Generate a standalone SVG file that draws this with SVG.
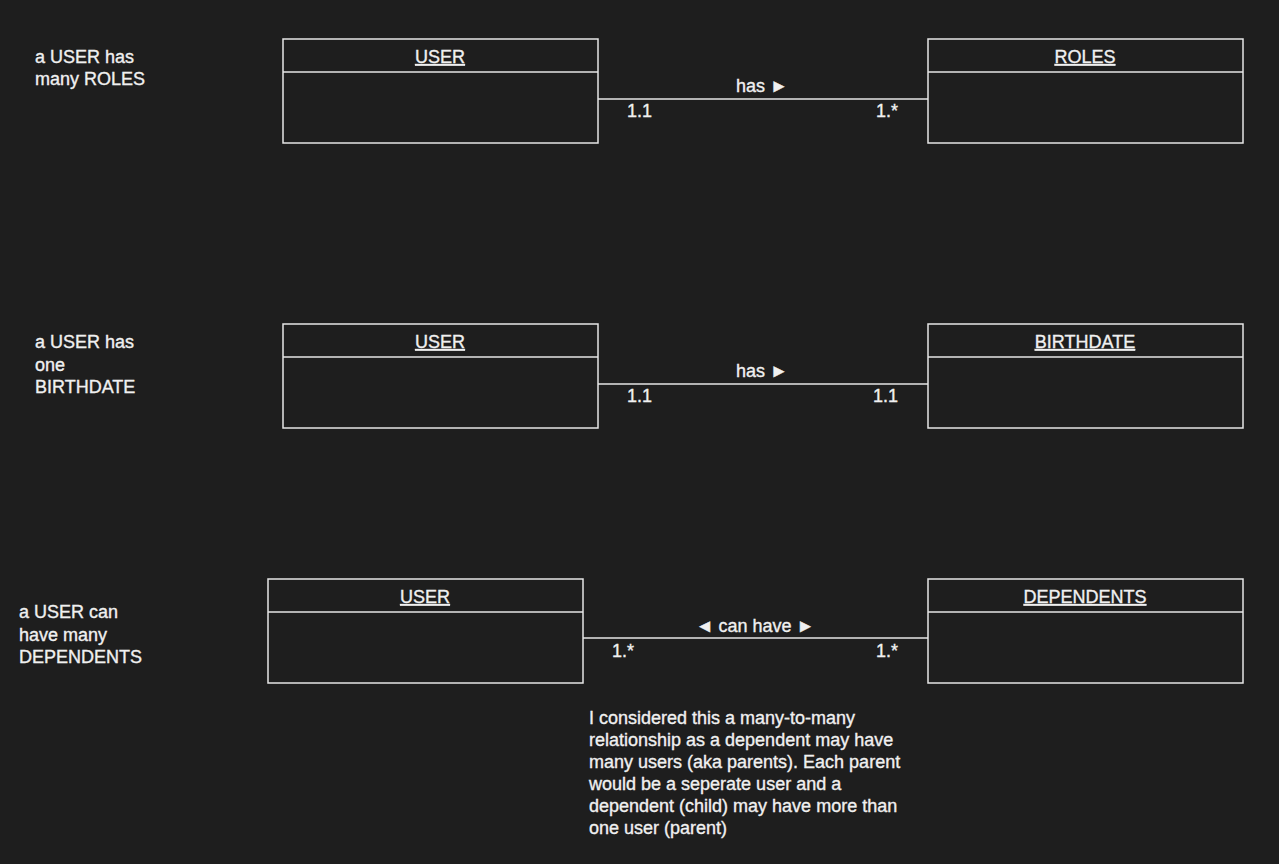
<svg xmlns="http://www.w3.org/2000/svg" width="1279" height="864" viewBox="0 0 1279 864">
<style>
text{font-family:"Liberation Sans",Arial,sans-serif;font-size:18px;fill:#f0f0f0;stroke:#f0f0f0;stroke-width:0.35}
.box{fill:none;stroke:#e6e6e6;stroke-width:1.5}
.title{text-anchor:middle;text-decoration:underline}
.mid{text-anchor:middle}
.con{stroke:#e6e6e6;stroke-width:1.5;fill:none}
</style>
<rect width="1279" height="864" fill="#1e1e1e"/>
<g id="desc1"><text x="35" y="63">a USER has</text><text x="35" y="85">many ROLES</text></g>
<g id="desc2"><text x="35" y="348">a USER has</text><text x="35" y="371">one</text><text x="35" y="393">BIRTHDATE</text></g>
<g id="desc3"><text x="19" y="618">a USER can</text><text x="19" y="641">have many</text><text x="19" y="663">DEPENDENTS</text></g>
<g id="user1"><rect class="box" x="283" y="39" width="315" height="104"/><line class="box" x1="283" y1="72" x2="598" y2="72"/><text class="title" x="440" y="63">USER</text></g>
<g id="roles"><rect class="box" x="928" y="39" width="315" height="104"/><line class="box" x1="928" y1="72" x2="1243" y2="72"/><text class="title" x="1085" y="63">ROLES</text></g>
<g id="user2"><rect class="box" x="283" y="324" width="315" height="104"/><line class="box" x1="283" y1="357" x2="598" y2="357"/><text class="title" x="440" y="348">USER</text></g>
<g id="birthdate"><rect class="box" x="928" y="324" width="315" height="104"/><line class="box" x1="928" y1="357" x2="1243" y2="357"/><text class="title" x="1085" y="348">BIRTHDATE</text></g>
<g id="user3"><rect class="box" x="268" y="579" width="315" height="104"/><line class="box" x1="268" y1="612" x2="583" y2="612"/><text class="title" x="425" y="603">USER</text></g>
<g id="dependents"><rect class="box" x="928" y="579" width="315" height="104"/><line class="box" x1="928" y1="612" x2="1243" y2="612"/><text class="title" x="1085" y="603">DEPENDENTS</text></g>
<g id="connectors">
<line class="con" x1="598" y1="99" x2="928" y2="99"/>
<text class="mid" x="762" y="92">has ►</text>
<text x="627" y="117">1.1</text><text x="876" y="117">1.*</text>
<line class="con" x1="598" y1="384" x2="928" y2="384"/>
<text class="mid" x="762" y="377">has ►</text>
<text x="627" y="402">1.1</text><text x="873" y="402">1.1</text>
<line class="con" x1="583" y1="638" x2="928" y2="638"/>
<text class="mid" x="755" y="632">◄ can have ►</text>
<text x="612" y="657">1.*</text><text x="876" y="657">1.*</text>
</g>
<g id="note">
<text x="589" y="724">I considered this a many-to-many</text>
<text x="589" y="746">relationship as a dependent may have</text>
<text x="589" y="768">many users (aka parents). Each parent</text>
<text x="589" y="790">would be a seperate user and a</text>
<text x="589" y="812">dependent (child) may have more than</text>
<text x="589" y="834">one user (parent)</text>
</g>
</svg>
